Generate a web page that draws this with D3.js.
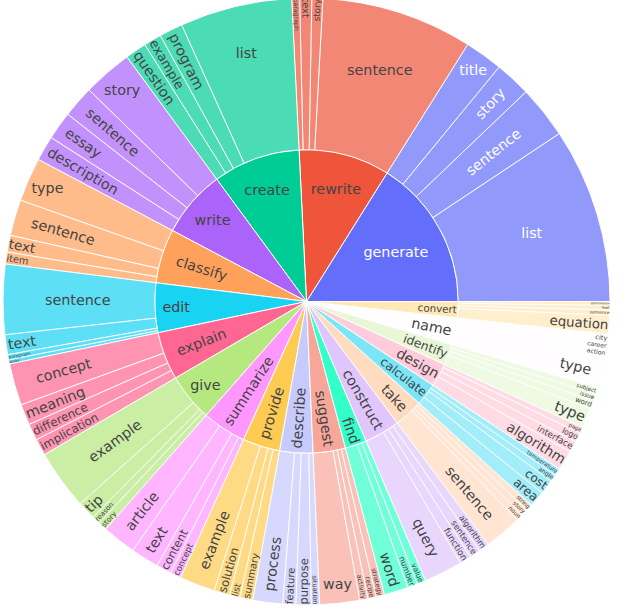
<!DOCTYPE html>
<html>
<head>
<meta charset="utf-8">
<script src="https://cdn.jsdelivr.net/npm/d3@7"></script>
<style>
  body { margin: 0; background: #fff; }
  svg text { font-family: "DejaVu Sans", sans-serif; }
</style>
</head>
<body>
<svg id="chart" width="623" height="607"></svg>
<script>
// verbs, in drawing order (counterclockwise from 3 o'clock)
const verbs = ["generate", "rewrite", "create", "write", "classify", "edit", "explain", "give",
  "summarize", "provide", "describe", "suggest", "find", "construct", "take", "calculate",
  "design", "identify", "name", "convert"];

// top nouns of each verb
const nounLabels = [
  ["list", "sentence", "story", "title"],
  ["sentence", "story", "text", "paragraph"],
  ["list", "program", "example", "question"],
  ["story", "sentence", "essay", "description"],
  ["type", "sentence", "text", "item"],
  ["sentence", "text", "paragraph", "essay"],
  ["concept", "meaning", "difference", "implication"],
  ["example", "tip", "reason", "story"],
  ["article", "text", "content", "concept"],
  ["example", "solution", "list", "summary"],
  ["process", "feature", "purpose", "situation"],
  ["way", "activity", "recipe", "strategy"],
  ["word", "number", "value"],
  ["query", "function", "sentence", "algorithm"],
  ["sentence", "noun", "story", "string"],
  ["area", "cost", "angle", "temperature"],
  ["algorithm", "interface", "logo", "page"],
  ["type", "word", "issue", "subject"],
  ["type", "action", "career", "city"],
  ["equation", "sentence", "text", "abbreviation"]
];

// counts (relative sizes)
const nounCounts = [
  [33.6, 10.1, 6.9, 7.3],
  [29.0, 2.1, 2.3, 1.5],
  [21.5, 4.5, 3.4, 4.1],
  [9.5, 6.1, 5.4, 4.8],
  [8.4, 6.9, 3.2, 2.3],
  [13.4, 3.8, 1.0, 0.8],
  [8.0, 4.0, 3.2, 3.2],
  [11.5, 3.5, 1.6, 1.7],
  [6.5, 5.4, 2.9, 2.1],
  [6.8, 3.0, 2.0, 2.5],
  [5.7, 2.5, 2.9, 1.6],
  [7.6, 1.6, 1.6, 1.6],
  [4.6, 1.9, 1.7],
  [7.4, 2.2, 2.1, 2.0],
  [7.2, 1.3, 1.3, 1.3],
  [3.0, 2.8, 1.4, 1.4],
  [3.8, 2.2, 1.8, 1.2],
  [3.8, 1.6, 1.3, 1.3],
  [6.0, 1.4, 1.4, 1.5],
  [3.6, 1.0, 0.9, 0.7]
];

const colorway = ["#636efa", "#EF553B", "#00cc96", "#ab63fa", "#FFA15A",
  "#19d3f3", "#FF6692", "#B6E880", "#FF97FF", "#FECB52"];

const cx = 306.5, cy = 301.5, radius = 303.5;
const fontSize = 14.3;
const textPad = 3;

// colorway extended with lightened copies
const colors = colorway.concat(colorway.map(c => {
  const h = d3.hsl(c);
  h.l = Math.min(1, h.l + 0.2);
  return h.formatHex();
}));

const data = {
  name: "",
  children: verbs.map((v, i) => ({
    name: v,
    idx: i,
    children: nounLabels[i].map((n, j) => ({ name: n, idx: i, value: nounCounts[i][j] }))
  }))
};

const root = d3.hierarchy(data).sum(d => d.value || 0);
d3.partition().size([2 * Math.PI, 3])(root);

const r = d3.scaleLinear().domain([1, 3]).range([0, radius]);

// partition x is a math angle (ccw from 3 o'clock), d3.arc wants cw from 12
const arc = d3.arc()
  .startAngle(d => Math.PI / 2 - d.x1)
  .endAngle(d => Math.PI / 2 - d.x0)
  .innerRadius(d => r(d.y0))
  .outerRadius(d => r(d.y1));

const svg = d3.select("#chart");
const g = svg.append("g").attr("transform", `translate(${cx},${cy})`);

const nodes = root.descendants().filter(d => d.depth > 0);

g.selectAll("path")
  .data(nodes)
  .join("path")
  .attr("d", arc)
  .attr("fill", d => colors[d.data.idx])
  .attr("opacity", d => d.children ? 1 : 0.7)
  .attr("stroke", "#fff")
  .attr("stroke-width", 1);

function textColor(c) {
  const rgb = d3.rgb(c);
  const bright = (rgb.r * 299 + rgb.g * 587 + rgb.b * 114) / 1000;
  return bright < 128 ? "#fff" : "#444";
}

function maxHalfSize(a, half, rr, ring) {
  const q = a + 1 / (2 * Math.tan(half));
  return rr * Math.min(
    1 / (Math.sqrt(q * q + 0.5) + q),
    ring / (Math.sqrt(a * a + ring / 2) + a)
  );
}

function rCenter(a, b) {
  return Math.sqrt(Math.max(0, 1 - b * b)) - a * b;
}

function radRot(ang) {
  const deg = -ang * 180 / Math.PI;
  return (((deg % 180) + 270) % 180) - 90;
}

function radTransform(bb, rOut, ring, half, ang) {
  const rr = Math.max(0, rOut - 2 * textPad);
  const a = bb.width / bb.height;
  const s = maxHalfSize(a, half, rr, ring);
  return { scale: s * 2 / bb.height, rc: rCenter(a, s / rr), rot: radRot(ang), pos: ang };
}

function tanTransform(bb, rOut, ring, half, ang) {
  const rr = Math.max(0, rOut - 2 * textPad);
  const a = bb.height / bb.width;
  const s = maxHalfSize(a, half, rr, ring);
  let rot = radRot(ang) + 90;
  if (rot > 90) rot -= 180;
  return { scale: s * 2 / bb.width, rc: rCenter(a, s / rr), rot: rot, pos: ang };
}

function fitText(d, bb) {
  const a0 = d.x0, a1 = d.x1;
  const rOut = r(d.y1), rIn = r(d.y0);
  const ring = 1 - rIn / rOut;
  const half = 0.5 * Math.min(a1 - a0, Math.PI);
  const mid = (a0 + a1) / 2;
  const all = [];

  [[Math.PI / 2, "tan"], [3 * Math.PI / 2, "tan"], [Math.PI, "rad"]].forEach(([ang, key]) => {
    if (a0 < ang && ang < a1) {
      const edge = Math.min(ang - a0, a1 - ang);
      all.push(key === "tan" ? tanTransform(bb, rOut, ring, edge, ang) : radTransform(bb, rOut, ring, edge, ang));
    }
  });

  const rIns = Math.max(0, Math.min(1 / (1 + 1 / Math.sin(half)), ring / 2));
  const diag = Math.hypot(bb.width, bb.height);
  const hor = { scale: rIns * rOut * 2 / diag, rc: 1 - rIns, rot: 0, pos: mid };
  if (hor.scale >= 1) return hor;
  all.push(hor);
  all.push(radTransform(bb, rOut, ring, half, mid));
  all.push(tanTransform(bb, rOut, ring, half, mid));

  let best = all[0];
  all.forEach(t => { if (t.scale > best.scale) best = t; });
  return best;
}

const labels = g.selectAll("text")
  .data(nodes)
  .join("text")
  .attr("font-size", fontSize)
  .attr("text-anchor", "middle")
  .attr("fill", d => textColor(colors[d.data.idx]))
  .text(d => d.data.name);

labels.each(function (d) {
  const bb = this.getBBox();
  const t = fitText(d, bb);
  const rOut = r(d.y1);
  const x = t.rc * rOut * Math.cos(t.pos);
  const y = -t.rc * rOut * Math.sin(t.pos);
  const sc = Math.min(1, t.scale);
  d3.select(this).attr("transform",
    `translate(${x},${y}) rotate(${t.rot}) scale(${sc}) translate(${-(bb.x + bb.width / 2)},${-(bb.y + bb.height / 2)})`);
});
</script>
</body>
</html>
